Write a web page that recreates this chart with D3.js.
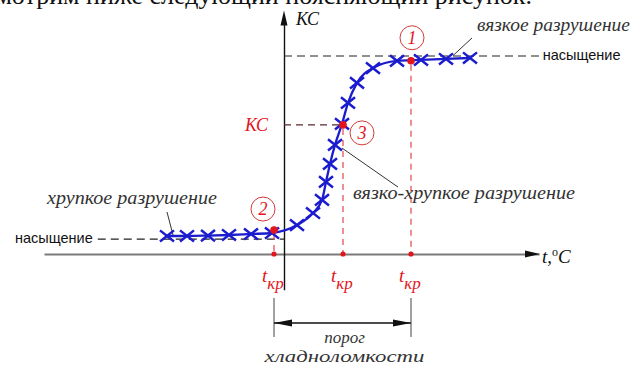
<!DOCTYPE html>
<html>
<head>
<meta charset="utf-8">
<script src="https://d3js.org/d3.v7.min.js"></script>
<style>
  body { margin: 0; background: #fff; }
  svg { display: block; }
  .serif { font-family: "Liberation Serif", "DejaVu Serif", serif; font-style: italic; }
  .sans { font-family: "Liberation Sans", Arial, sans-serif; }
</style>
</head>
<body>
<div class="chart"></div>
<script>
// measured points along the curve: temperature t and impact toughness KC
var tValues  = [-46.8, -38.8, -30.4, -22.0, -13.2, -4.8, 5.2, 11.6, 15.2, 16.8,
                18.4, 20.4, 23.2, 25.6, 29.2, 35.6, 45.2, 54.8, 64.8, 74.4];
var kcValues = [9.1, 9.1, 9.3, 9.6, 10.1, 10.6, 14.6, 20.7, 27.3, 36.4,
                45.5, 55.1, 65.7, 76.3, 86.4, 93.9, 97.5, 98.0, 98.5, 99.0];

// characteristic points 1, 2, 3
var keyLabels = ["1", "2", "3"];
var keyT      = [50.8, -4.0, 23.6];
var keyKC     = [97.6, 12.1, 65.2];

var satHigh = 100, satLow = 7.5;   // upper and lower saturation levels
var kcCrit = 65.2;

var w = 635, h = 365;
var svg = d3.select(".chart").append("svg")
    .attr("width", w).attr("height", h);

var x = d3.scaleLinear().domain([-96, 102]).range([44, 539]);
var y = d3.scaleLinear().domain([0, 100]).range([254, 56]);

var blue = "#1c1ccf", red = "#e3141b", grey = "#333";

// header line cut off at the top
svg.append("text")
    .attr("x", 532).attr("y", 4)
    .attr("text-anchor", "end")
    .style("font-family", "'Liberation Serif', serif")
    .style("font-size", "26px")
    .attr("fill", "#111")
    .text("Рассмотрим ниже следующий поясняющий рисунок.");

// x axis (no ticks)
var xAxis = d3.axisBottom(x).tickValues([]).tickSizeOuter(0);
var gx = svg.append("g").attr("transform", "translate(0," + y(0) + ")").call(xAxis);
gx.select(".domain").attr("stroke", "#7a7a7a").attr("stroke-width", 2);
svg.append("path")
    .attr("d", "M" + (x.range()[1] - 14) + "," + (y(0) - 3.5) + "L" + (x.range()[1] + 1) + "," + y(0) +
               "L" + (x.range()[1] - 14) + "," + (y(0) + 3.5) + "Z")
    .attr("fill", "#111");

// y axis (no ticks), extends below the x axis
var yAxisScale = y.copy().domain([-18, 116]).range([y(-18), y(116)]);
var gy = svg.append("g").attr("transform", "translate(" + x(0) + ",0)")
    .call(d3.axisLeft(yAxisScale).tickValues([]).tickSizeOuter(0));
gy.select(".domain").attr("stroke", "#111").attr("stroke-width", 1.4);
var yTop = y(123);
svg.append("path")
    .attr("d", "M" + (x(0) - 3.5) + "," + (yTop + 15) + "L" + x(0) + "," + yTop +
               "L" + (x(0) + 3.5) + "," + (yTop + 15) + "Z")
    .attr("fill", "#111");
svg.append("text").attr("class", "serif")
    .attr("x", x(0) + 12).attr("y", 25)
    .style("font-size", "18px").attr("fill", "#111").text("КС");

// axis label t, °C
var tl = svg.append("text").attr("class", "serif")
    .attr("x", x.range()[1] + 3).attr("y", 263)
    .style("font-size", "19px").attr("fill", "#111");
tl.append("tspan").text("t,");
tl.append("tspan").attr("dy", -7).style("font-size", "12px").style("font-style", "normal").text("o");
tl.append("tspan").attr("dy", 7).text("C");

// saturation lines
svg.append("line")
    .attr("x1", x(0)).attr("x2", x(102))
    .attr("y1", y(satHigh)).attr("y2", y(satHigh))
    .attr("stroke", "#222").attr("stroke-width", 1.2).attr("stroke-dasharray", "8,5");
svg.append("text").attr("class", "sans")
    .attr("x", x(103.5)).attr("y", y(satHigh) + 4)
    .style("font-size", "14.5px").attr("fill", "#111").text("насыщение");

svg.append("line")
    .attr("x1", x(-74.5)).attr("x2", x(0))
    .attr("y1", y(satLow)).attr("y2", y(satLow))
    .attr("stroke", "#222").attr("stroke-width", 1.2).attr("stroke-dasharray", "8,5");
svg.append("text").attr("class", "sans")
    .attr("x", x(-76.5)).attr("y", y(satLow) + 4)
    .attr("text-anchor", "end")
    .style("font-size", "14.5px").attr("fill", "#111").text("насыщение");

// KC critical dashed line and label
svg.append("line")
    .attr("x1", x(0)).attr("x2", x(keyT[2]))
    .attr("y1", y(kcCrit)).attr("y2", y(kcCrit))
    .attr("stroke", "#5b2a2a").attr("stroke-width", 1.2).attr("stroke-dasharray", "7,5");
svg.append("text").attr("class", "serif")
    .attr("x", x(0) - 16).attr("y", y(kcCrit) + 6)
    .attr("text-anchor", "end")
    .style("font-size", "18px").attr("fill", red).text("КС");

// red verticals down to the t axis
keyT.forEach(function(t, i) {
    svg.append("line")
        .attr("x1", x(t)).attr("x2", x(t))
        .attr("y1", y(keyKC[i]) + 4).attr("y2", y(0))
        .attr("stroke", "#e0474c").attr("stroke-width", 1.2).attr("stroke-dasharray", "6,5");
    svg.append("circle")
        .attr("cx", x(t)).attr("cy", y(0)).attr("r", 2.6).attr("fill", red);
    var lab = svg.append("text").attr("class", "serif")
        .attr("x", x(t) - 12).attr("y", y(0) + 28)
        .style("font-size", "19px").attr("fill", red);
    lab.append("tspan").text("t");
    lab.append("tspan").attr("dy", 7).style("font-size", "17px").text("кр");
});

// leader lines and annotation text
var notes = [
    { text: "вязкое разрушение",        from: [67.6, 100.2], to: [75.2, 109.1], at: [77.2, 112.5], len: 153 },
    { text: "хрупкое разрушение",       from: [-44.4, 9.6],  to: [-46.8, 21.2], at: [-94.8, 25.3], len: 170 },
    { text: "вязко-хрупкое разрушение", from: [23.2, 53.5],  to: [45.6, 33.8],  at: [27.6, 27.8],  len: 222 }
];
notes.forEach(function(n) {
    svg.append("line")
        .attr("x1", x(n.from[0])).attr("y1", y(n.from[1]))
        .attr("x2", x(n.to[0])).attr("y2", y(n.to[1]))
        .attr("stroke", "#333").attr("stroke-width", 1);
    svg.append("text").attr("class", "serif")
        .attr("x", x(n.at[0])).attr("y", y(n.at[1]))
        .attr("textLength", n.len).attr("lengthAdjust", "spacingAndGlyphs")
        .style("font-size", "18px").attr("fill", grey).text(n.text);
});

// curve
var line = d3.line()
    .x(function(d) { return x(d[0]); })
    .y(function(d) { return y(d[1]); })
    .curve(d3.curveMonotoneX);
var pts = tValues.map(function(t, i) { return [t, kcValues[i]]; });
svg.append("path").datum(pts)
    .attr("d", line)
    .attr("fill", "none").attr("stroke", blue).attr("stroke-width", 2.3);

// cross markers
var s = 7;
svg.append("g").selectAll("path").data(pts).enter().append("path")
    .attr("d", function(d) {
        var cx = x(d[0]), cy = y(d[1]);
        return "M" + (cx - s) + "," + (cy - s * 0.8) + "L" + (cx + s) + "," + (cy + s * 0.8) +
               "M" + (cx - s) + "," + (cy + s * 0.8) + "L" + (cx + s) + "," + (cy - s * 0.8);
    })
    .attr("stroke", blue).attr("stroke-width", 2.5).attr("fill", "none");

// key points with circled numbers
var badgeOffset = [[1, -23], [-11, -21], [19, 8]];
keyT.forEach(function(t, i) {
    var cx = x(t), cy = y(keyKC[i]);
    svg.append("circle").attr("cx", cx).attr("cy", cy).attr("r", 3.8).attr("fill", red);
    var bx = cx + badgeOffset[i][0], by = cy + badgeOffset[i][1];
    svg.append("circle").attr("cx", bx).attr("cy", by).attr("r", 12)
        .attr("fill", "#fff").attr("stroke", "#d23a3a").attr("stroke-width", 1);
    svg.append("text").attr("class", "serif")
        .attr("x", bx).attr("y", by + 6).attr("text-anchor", "middle")
        .style("font-size", "18px").attr("fill", red).text(keyLabels[i]);
});

// cold brittleness threshold bracket
var xa = x(keyT[1]), xb = x(keyT[0]), ya = 323;
[xa, xb].forEach(function(xx) {
    svg.append("line").attr("x1", xx).attr("x2", xx).attr("y1", 298).attr("y2", 337)
        .attr("stroke", "#444").attr("stroke-width", 1);
});
svg.append("line").attr("x1", xa).attr("x2", xb).attr("y1", ya).attr("y2", ya)
    .attr("stroke", "#111").attr("stroke-width", 1.5);
svg.append("path")
    .attr("d", "M" + xa + "," + ya + "L" + (xa + 18) + "," + (ya - 3.5) + "L" + (xa + 18) + "," + (ya + 3.5) + "Z" +
               "M" + xb + "," + ya + "L" + (xb - 18) + "," + (ya - 3.5) + "L" + (xb - 18) + "," + (ya + 3.5) + "Z")
    .attr("fill", "#111");
svg.append("text").attr("class", "serif")
    .attr("x", (xa + xb) / 2 + 2).attr("y", 343).attr("text-anchor", "middle")
    .style("font-size", "17px").attr("fill", grey).text("порог");
svg.append("text").attr("class", "serif")
    .attr("x", (xa + xb) / 2 + 2).attr("y", 362).attr("text-anchor", "middle")
    .attr("textLength", 160).attr("lengthAdjust", "spacingAndGlyphs")
    .style("font-size", "17px").attr("fill", grey).text("хладноломкости");
</script>
</body>
</html>
